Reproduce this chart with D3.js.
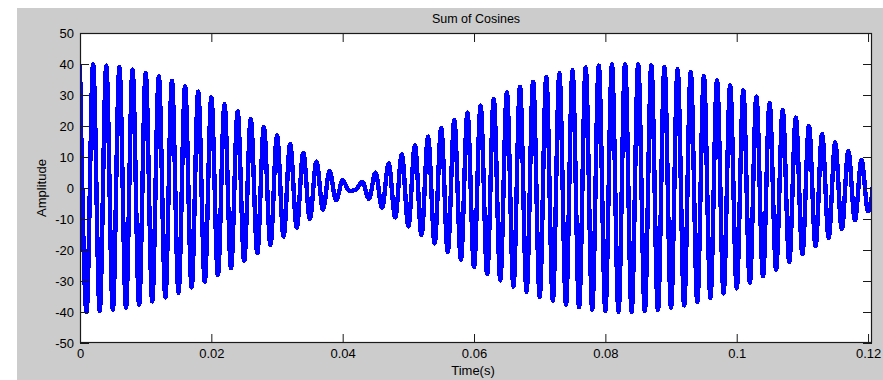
<!DOCTYPE html>
<html>
<head>
<meta charset="utf-8">
<script src="https://cdn.jsdelivr.net/npm/d3@7/dist/d3.min.js"></script>
<style>
  html, body { margin: 0; padding: 0; background: #ffffff; }
  svg { display: block; }
  text { font-family: "Liberation Sans", Arial, Helvetica, sans-serif; fill: #000; }
</style>
</head>
<body>
<svg id="chart" width="883" height="380"></svg>
<script>
// ---- Data (successive extrema of the waveform) ----
const sampleTimes = [
  0.000, 0.001, 0.002, 0.003, 0.004, 0.005, 0.006, 0.007, 0.008, 0.009,
  0.010, 0.011, 0.012, 0.013, 0.014, 0.015, 0.016, 0.017, 0.018, 0.019,
  0.020, 0.021, 0.022, 0.023, 0.024, 0.025, 0.026, 0.027, 0.028, 0.029,
  0.030, 0.031, 0.032, 0.033, 0.034, 0.035, 0.036, 0.037, 0.038, 0.039,
  0.040, 0.041, 0.042, 0.043, 0.044, 0.045, 0.046, 0.047, 0.048, 0.049,
  0.050, 0.051, 0.052, 0.053, 0.054, 0.055, 0.056, 0.057, 0.058, 0.059,
  0.060, 0.061, 0.062, 0.063, 0.064, 0.065, 0.066, 0.067, 0.068, 0.069,
  0.070, 0.071, 0.072, 0.073, 0.074, 0.075, 0.076, 0.077, 0.078, 0.079,
  0.080, 0.081, 0.082, 0.083, 0.084, 0.085, 0.086, 0.087, 0.088, 0.089,
  0.090, 0.091, 0.092, 0.093, 0.094, 0.095, 0.096, 0.097, 0.098, 0.099,
  0.100, 0.101, 0.102, 0.103, 0.104, 0.105, 0.106, 0.107, 0.108, 0.109,
  0.110, 0.111, 0.112, 0.113, 0.114, 0.115, 0.116, 0.117, 0.118, 0.119,
  0.120, 0.121
];
const amplitudes = [
  40.0, -40.0, 39.9, -39.7, 39.5, -39.3, 39.0, -38.6, 38.2, -37.7,
  37.2, -36.6, 36.0, -35.3, 34.6, -33.8, 32.9, -32.1, 31.1, -30.2,
  29.2, -28.1, 27.0, -25.9, 24.7, -23.5, 22.3, -21.0, 19.7, -18.4,
  17.0, -15.7, 14.3, -12.8, 11.4, -10.0, 8.5, -7.0, 5.5, -4.0,
  2.5, -1.0, -0.5, 2.0, -3.5, 5.0, -6.5, 8.0, -9.5, 10.9,
  -12.4, 13.8, -15.2, 16.6, -17.9, 19.3, -20.6, 21.9, -23.1, 24.3,
  -25.5, 26.6, -27.8, 28.8, -29.8, 30.8, -31.8, 32.7, -33.5, 34.3,
  -35.1, 35.8, -36.4, 37.0, -37.6, 38.0, -38.5, 38.9, -39.2, 39.5,
  -39.7, 39.9, -40.0, 40.0, -40.0, 39.9, -39.8, 39.6, -39.4, 39.1,
  -38.7, 38.3, -37.9, 37.4, -36.8, 36.2, -35.5, 34.8, -34.0, 33.2,
  -32.4, 31.5, -30.5, 29.5, -28.5, 27.4, -26.3, 25.1, -23.9, 22.7,
  -21.4, 20.1, -18.8, 17.5, -16.1, 14.7, -13.3, 11.9, -10.4, 9.0,
  -7.5, 6.0
];
const xTickValues = [0, 0.02, 0.04, 0.06, 0.08, 0.1, 0.12];
const xTickLabels = ["0", "0.02", "0.04", "0.06", "0.08", "0.1", "0.12"];
const yTickValues = [-50, -40, -30, -20, -10, 0, 10, 20, 30, 40, 50];
const yTickLabels = ["-50", "-40", "-30", "-20", "-10", "0", "10", "20", "30", "40", "50"];
const chartTitle = "Sum of Cosines";
const xTitle = "Time(s)";
const yTitle = "Amplitude";

// ---- Layout ----
const W = 883, H = 380;
const plot = { left: 80, top: 33, right: 872, bottom: 343 };

const svg = d3.select("#chart");

// figure background (MATLAB grey)
svg.append("rect").attr("x", 17).attr("y", 8).attr("width", W - 17).attr("height", H - 8)
  .attr("fill", "#cccccc");

// axes background
svg.append("rect").attr("x", plot.left).attr("y", plot.top)
  .attr("width", plot.right - plot.left).attr("height", plot.bottom - plot.top)
  .attr("fill", "#ffffff");

const x = d3.scaleLinear().domain([0, 0.1206]).range([plot.left, plot.right]);
const y = d3.scaleLinear().domain([-50, 50]).range([plot.bottom, plot.top]);

svg.append("clipPath").attr("id", "clip")
  .append("rect").attr("x", plot.left).attr("y", plot.top)
  .attr("width", plot.right - plot.left).attr("height", plot.bottom - plot.top);

const data = sampleTimes.map((t, i) => ({ t: t, v: amplitudes[i] }));

const line = d3.line()
  .x(d => x(d.t))
  .y(d => y(d.v))
  .curve(d3.curveMonotoneX);

svg.append("path")
  .datum(data)
  .attr("clip-path", "url(#clip)")
  .attr("d", line)
  .attr("fill", "none")
  .attr("stroke", "#0000ff")
  .attr("stroke-width", 4.4)
  .attr("stroke-linejoin", "miter")
  .attr("shape-rendering", "crispEdges");

// ---- Axes (ticks inward, box) ----
const tickLen = 9;
const axisColor = "#1a1a1a";

function styleAxis(g) {
  g.select(".domain").remove();
  g.selectAll(".tick line").attr("stroke", axisColor);
  g.selectAll(".tick text").style("font-size", "13px").style("font-family", "'Liberation Sans', Arial, sans-serif").attr("fill", "#000");
}

const xFmt = d => xTickLabels[xTickValues.indexOf(d)];
const yFmt = d => yTickLabels[yTickValues.indexOf(d)];

svg.append("g").attr("transform", `translate(0,${plot.bottom})`)
  .call(d3.axisBottom(x).tickValues(xTickValues).tickFormat(xFmt).tickSizeInner(-tickLen).tickSizeOuter(0).tickPadding(6))
  .call(styleAxis);
svg.append("g").attr("transform", `translate(0,${plot.top})`)
  .call(d3.axisTop(x).tickValues(xTickValues).tickFormat("").tickSizeInner(-tickLen).tickSizeOuter(0))
  .call(styleAxis);
svg.append("g").attr("transform", `translate(${plot.left},0)`)
  .call(d3.axisLeft(y).tickValues(yTickValues).tickFormat(yFmt).tickSizeInner(-tickLen).tickSizeOuter(0).tickPadding(6))
  .call(styleAxis);
svg.append("g").attr("transform", `translate(${plot.right},0)`)
  .call(d3.axisRight(y).tickValues(yTickValues).tickFormat("").tickSizeInner(-tickLen).tickSizeOuter(0))
  .call(styleAxis);

svg.append("rect")
  .attr("x", plot.left + 0.5).attr("y", plot.top + 0.5)
  .attr("width", plot.right - plot.left - 1).attr("height", plot.bottom - plot.top - 1)
  .attr("fill", "none").attr("stroke", axisColor).attr("stroke-width", 1.2);

// ---- Titles ----
svg.append("text").attr("x", (plot.left + plot.right) / 2).attr("y", 23)
  .attr("text-anchor", "middle").style("font-size", "12.5px").text(chartTitle);
svg.append("text").attr("x", (plot.left + plot.right) / 2 - 3).attr("y", 375)
  .attr("text-anchor", "middle").style("font-size", "13px").text(xTitle);
svg.append("text").attr("transform", `translate(46,${(plot.top + plot.bottom) / 2}) rotate(-90)`)
  .attr("text-anchor", "middle").style("font-size", "13px").text(yTitle);
</script>
</body>
</html>
